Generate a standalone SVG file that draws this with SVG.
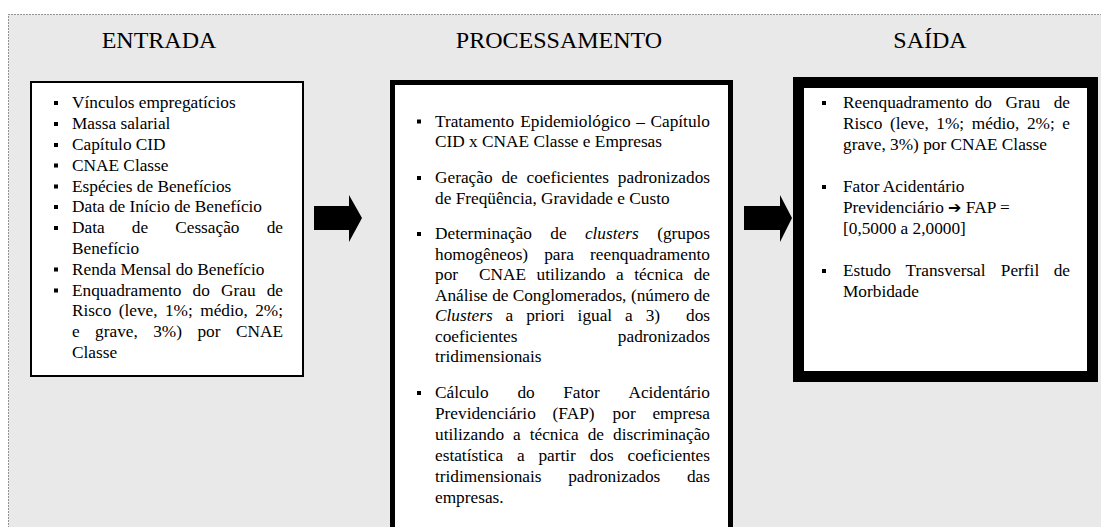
<svg xmlns="http://www.w3.org/2000/svg" width="1101" height="527" viewBox="0 0 1101 527">
<style>
.t{font-family:"Liberation Serif","Times New Roman",serif;font-size:17.3px;fill:#000}
.h{font-family:"Liberation Serif","Times New Roman",serif;font-size:24px;fill:#000;text-anchor:middle}
.i{font-style:italic}
.e{text-anchor:end}
.b{fill:#000}
.ar{fill:#000}
</style>
<rect x="0" y="0" width="1101" height="527" fill="#fff"/>
<rect x="8.5" y="14.5" width="1200" height="600" fill="#e9e9e9" stroke="#333" stroke-width="1" stroke-dasharray="1 2"/>

<g id="entrada">
<text class="h" x="159" y="48">ENTRADA</text>
<rect x="31" y="82" width="272" height="294" fill="#fff" stroke="#000" stroke-width="2"/>
<g class="b">
<rect x="54" y="101" width="4" height="4"/><rect x="54" y="122" width="4" height="4"/><rect x="54" y="143" width="4" height="4"/><rect x="54" y="163.5" width="4" height="4"/><rect x="54" y="184.5" width="4" height="4"/><rect x="54" y="205" width="4" height="4"/><rect x="54" y="226" width="4" height="4"/><rect x="54" y="267.5" width="4" height="4"/><rect x="54" y="288.5" width="4" height="4"/>
</g>
<text class="t" x="72" y="108">Vínculos empregatícios</text>
<text class="t" x="72" y="129">Massa salarial</text>
<text class="t" x="72" y="150">Capítulo CID</text>
<text class="t" x="72" y="170.5">CNAE Classe</text>
<text class="t" x="72" y="191.5">Espécies de Benefícios</text>
<text class="t" x="72" y="212">Data de Início de Benefício</text>
<text class="t" y="233"><tspan x="72">Data</tspan><tspan x="131.8">de</tspan><tspan x="175.2">Cessação</tspan><tspan x="283" class="e">de</tspan></text>
<text class="t" x="72" y="253.5">Benefício</text>
<text class="t" x="72" y="274.5">Renda Mensal do Benefício</text>
<text class="t" y="295.5"><tspan x="72">Enquadramento</tspan><tspan x="192.6">do</tspan><tspan x="221">Grau</tspan><tspan x="283" class="e">de</tspan></text>
<text class="t" y="316"><tspan x="72">Risco</tspan><tspan x="118.7">(leve,</tspan><tspan x="164.9">1%;</tspan><tspan x="200.2">médio,</tspan><tspan x="283" class="e">2%;</tspan></text>
<text class="t" y="337"><tspan x="72">e</tspan><tspan x="95.1">grave,</tspan><tspan x="153.2">3%)</tspan><tspan x="197.4">por</tspan><tspan x="283" class="e">CNAE</tspan></text>
<text class="t" x="72" y="357.5">Classe</text>
</g>

<g id="processamento">
<text class="h" x="559" y="48">PROCESSAMENTO</text>
<rect x="392.5" y="82.5" width="338" height="500" fill="#fff" stroke="#000" stroke-width="5"/>
<g class="b">
<rect x="417" y="119.5" width="4" height="4"/><rect x="417" y="176" width="4" height="4"/><rect x="417" y="232" width="4" height="4"/><rect x="417" y="391" width="4" height="4"/>
</g>
<text class="t" y="126.5"><tspan x="435">Tratamento</tspan><tspan x="520.3">Epidemiológico</tspan><tspan x="636.3">–</tspan><tspan x="710" class="e">Capítulo</tspan></text>
<text class="t" x="435" y="147">CID x CNAE Classe e Empresas</text>
<text class="t" y="183"><tspan x="435">Geração</tspan><tspan x="501.4">de</tspan><tspan x="526.5">coeficientes</tspan><tspan x="710" class="e">padronizados</tspan></text>
<text class="t" x="435" y="203.5">de Freqüência, Gravidade e Custo</text>
<text class="t" y="239"><tspan x="435">Determinação</tspan><tspan x="550.3">de</tspan><tspan x="584.9" class="i">clusters</tspan><tspan x="710" class="e">(grupos</tspan></text>
<text class="t" y="259.5"><tspan x="435">homogêneos)</tspan><tspan x="544.2">para</tspan><tspan x="710" class="e">reenquadramento</tspan></text>
<text class="t" y="280"><tspan x="435">por</tspan><tspan x="479">CNAE</tspan><tspan x="536.5">utilizando</tspan><tspan x="616.1">a</tspan><tspan x="634.3">técnica</tspan><tspan x="710" class="e">de</tspan></text>
<text class="t" y="300.5"><tspan x="435">Análise</tspan><tspan x="492.2">de</tspan><tspan x="512.7">Conglomerados,</tspan><tspan x="630.9">(número</tspan><tspan x="710" class="e">de</tspan></text>
<text class="t" y="321"><tspan x="435" class="i">Clusters</tspan><tspan x="505.6">a</tspan><tspan x="526.2">priori</tspan><tspan x="577.6">igual</tspan><tspan x="625.1">a</tspan><tspan x="645.7">3)</tspan><tspan x="710" class="e">dos</tspan></text>
<text class="t" y="341.5"><tspan x="435">coeficientes</tspan><tspan x="710" class="e">padronizados</tspan></text>
<text class="t" x="435" y="362">tridimensionais</text>
<text class="t" y="398"><tspan x="435">Cálculo</tspan><tspan x="517.4">do</tspan><tspan x="563.2">Fator</tspan><tspan x="710" class="e">Acidentário</tspan></text>
<text class="t" y="419"><tspan x="435">Previdenciário</tspan><tspan x="552.6">(FAP)</tspan><tspan x="612.6">por</tspan><tspan x="710" class="e">empresa</tspan></text>
<text class="t" y="440"><tspan x="435">utilizando</tspan><tspan x="513.1">a</tspan><tspan x="529.7">técnica</tspan><tspan x="587.7">de</tspan><tspan x="710" class="e">discriminação</tspan></text>
<text class="t" y="461"><tspan x="435">estatística</tspan><tspan x="517">a</tspan><tspan x="538.4">partir</tspan><tspan x="589.7">dos</tspan><tspan x="710" class="e">coeficientes</tspan></text>
<text class="t" y="482"><tspan x="435">tridimensionais</tspan><tspan x="568.2">padronizados</tspan><tspan x="710" class="e">das</tspan></text>
<text class="t" x="435" y="503">empresas.</text>
</g>

<g id="saida">
<text class="h" x="930" y="48">SAÍDA</text>
<rect x="798.5" y="82.5" width="294" height="294" fill="#fff" stroke="#000" stroke-width="11"/>
<g class="b">
<rect x="822" y="101" width="4" height="4"/><rect x="822" y="185" width="4" height="4"/><rect x="822" y="269" width="4" height="4"/>
</g>
<text class="t" y="108"><tspan x="843">Reenquadramento</tspan><tspan x="974.7">do</tspan><tspan x="1005.5">Grau</tspan><tspan x="1070" class="e">de</tspan></text>
<text class="t" y="129"><tspan x="843">Risco</tspan><tspan x="889.9">(leve,</tspan><tspan x="936.3">1%;</tspan><tspan x="971.8">médio,</tspan><tspan x="1026.9">2%;</tspan><tspan x="1070" class="e">e</tspan></text>
<text class="t" x="843" y="150">grave, 3%) por CNAE Classe</text>
<text class="t" x="843" y="192">Fator Acidentário</text>
<text class="t" x="843" y="213">Previdenciário <tspan font-family="DejaVu Sans" font-size="16">➔</tspan> FAP =</text>
<text class="t" x="843" y="234">[0,5000 a 2,0000]</text>
<text class="t" y="276"><tspan x="843">Estudo</tspan><tspan x="905.6">Transversal</tspan><tspan x="1000.8">Perfil</tspan><tspan x="1070" class="e">de</tspan></text>
<text class="t" x="843" y="297">Morbidade</text>
</g>

<g id="connectors">
<polygon class="ar" points="314,206 349,206 349,195 362,218 349,242 349,230 314,230"/>
<polygon class="ar" points="744,206 780,206 780,195 792,218 780,242 780,230 744,230"/>
</g>
</svg>
